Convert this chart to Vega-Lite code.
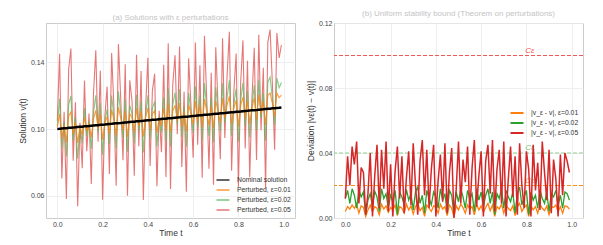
{
"$schema":"https://vega.github.io/schema/vega-lite/v6.json",
"padding":{"left":17,"top":9,"right":2,"bottom":1},
"spacing":9,
"datasets":{"thr":[{"eps":"0.01","C":0.02},{"eps":"0.02","C":0.04},{"eps":"0.05","C":0.1}],
"d":[
{"t":0.00,"v":0.1000,"o":0.1010,"g":0.1020,"r":0.1050,"dO":0.0040,"dG":0.0120,"dR":0.0120},
{"t":0.01,"v":0.1001,"o":0.1091,"g":0.1181,"r":0.1451,"dO":0.0070,"dG":0.0170,"dR":0.0380},
{"t":0.02,"v":0.1003,"o":0.0943,"g":0.0883,"r":0.0703,"dO":0.0055,"dG":0.0090,"dR":0.0200},
{"t":0.03,"v":0.1004,"o":0.1024,"g":0.1044,"r":0.1104,"dO":0.0080,"dG":0.0180,"dR":0.0440},
{"t":0.04,"v":0.1005,"o":0.0920,"g":0.0835,"r":0.0580,"dO":0.0060,"dG":0.0140,"dR":0.0330},
{"t":0.05,"v":0.1007,"o":0.1077,"g":0.1147,"r":0.1357,"dO":0.0085,"dG":0.0060,"dR":0.0470},
{"t":0.06,"v":0.1008,"o":0.1103,"g":0.1198,"r":0.1483,"dO":0.0030,"dG":0.0175,"dR":0.0090},
{"t":0.07,"v":0.1009,"o":0.0969,"g":0.0929,"r":0.0809,"dO":0.0075,"dG":0.0130,"dR":0.0310},
{"t":0.08,"v":0.1010,"o":0.1040,"g":0.1070,"r":0.1160,"dO":0.0065,"dG":0.0160,"dR":0.0280},
{"t":0.09,"v":0.1012,"o":0.0917,"g":0.0822,"r":0.0537,"dO":0.0010,"dG":0.0020,"dR":0.0020},
{"t":0.10,"v":0.1013,"o":0.1018,"g":0.1023,"r":0.1038,"dO":0.0050,"dG":0.0110,"dR":0.0150},
{"t":0.11,"v":0.1014,"o":0.0964,"g":0.0914,"r":0.0764,"dO":0.0080,"dG":0.0150,"dR":0.0400},
{"t":0.12,"v":0.1016,"o":0.1071,"g":0.1126,"r":0.1291,"dO":0.0040,"dG":0.0070,"dR":0.0010},
{"t":0.13,"v":0.1017,"o":0.0987,"g":0.0957,"r":0.0867,"dO":0.0070,"dG":0.0165,"dR":0.0260},
{"t":0.14,"v":0.1018,"o":0.1033,"g":0.1048,"r":0.1093,"dO":0.0060,"dG":0.0130,"dR":0.0450},
{"t":0.15,"v":0.1020,"o":0.0950,"g":0.0880,"r":0.0670,"dO":0.0020,"dG":0.0040,"dR":0.0060},
{"t":0.16,"v":0.1021,"o":0.1061,"g":0.1101,"r":0.1221,"dO":0.0085,"dG":0.0180,"dR":0.0420},
{"t":0.17,"v":0.1022,"o":0.1112,"g":0.1202,"r":0.1472,"dO":0.0055,"dG":0.0120,"dR":0.0180},
{"t":0.18,"v":0.1023,"o":0.1003,"g":0.0983,"r":0.0923,"dO":0.0075,"dG":0.0150,"dR":0.0470},
{"t":0.19,"v":0.1025,"o":0.1090,"g":0.1155,"r":0.1350,"dO":0.0035,"dG":0.0060,"dR":0.0040},
{"t":0.20,"v":0.1026,"o":0.0936,"g":0.0846,"r":0.0576,"dO":0.0065,"dG":0.0140,"dR":0.0330},
{"t":0.21,"v":0.1027,"o":0.1037,"g":0.1047,"r":0.1077,"dO":0.0050,"dG":0.0100,"dR":0.0010},
{"t":0.22,"v":0.1029,"o":0.1074,"g":0.1119,"r":0.1254,"dO":0.0080,"dG":0.0170,"dR":0.0290},
{"t":0.23,"v":0.1030,"o":0.0970,"g":0.0910,"r":0.0730,"dO":0.0015,"dG":0.0020,"dR":0.0440},
{"t":0.24,"v":0.1031,"o":0.1116,"g":0.1201,"r":0.1456,"dO":0.0070,"dG":0.0160,"dR":0.0120},
{"t":0.25,"v":0.1033,"o":0.1053,"g":0.1073,"r":0.1133,"dO":0.0060,"dG":0.0130,"dR":0.0380},
{"t":0.26,"v":0.1034,"o":0.0959,"g":0.0884,"r":0.0659,"dO":0.0030,"dG":0.0080,"dR":0.0030},
{"t":0.27,"v":0.1035,"o":0.1130,"g":0.1225,"r":0.1510,"dO":0.0085,"dG":0.0175,"dR":0.0250},
{"t":0.28,"v":0.1036,"o":0.1066,"g":0.1096,"r":0.1186,"dO":0.0050,"dG":0.0110,"dR":0.0410},
{"t":0.29,"v":0.1038,"o":0.0993,"g":0.0948,"r":0.0813,"dO":0.0075,"dG":0.0150,"dR":0.0080},
{"t":0.30,"v":0.1039,"o":0.1109,"g":0.1179,"r":0.1389,"dO":0.0025,"dG":0.0050,"dR":0.0460},
{"t":0.31,"v":0.1040,"o":0.0952,"g":0.0864,"r":0.0600,"dO":0.0070,"dG":0.0160,"dR":0.0200},
{"t":0.32,"v":0.1042,"o":0.1092,"g":0.1142,"r":0.1292,"dO":0.0090,"dG":0.0190,"dR":0.0020},
{"t":0.33,"v":0.1043,"o":0.1068,"g":0.1093,"r":0.1168,"dO":0.0045,"dG":0.0090,"dR":0.0350},
{"t":0.34,"v":0.1044,"o":0.0979,"g":0.0914,"r":0.0719,"dO":0.0065,"dG":0.0140,"dR":0.0480},
{"t":0.35,"v":0.1046,"o":0.1126,"g":0.1206,"r":0.1446,"dO":0.0010,"dG":0.0030,"dR":0.0140},
{"t":0.36,"v":0.1047,"o":0.1017,"g":0.0987,"r":0.0897,"dO":0.0080,"dG":0.0170,"dR":0.0420},
{"t":0.37,"v":0.1048,"o":0.1108,"g":0.1168,"r":0.1348,"dO":0.0060,"dG":0.0120,"dR":0.0060},
{"t":0.38,"v":0.1049,"o":0.0954,"g":0.0859,"r":0.0574,"dO":0.0040,"dG":0.0080,"dR":0.0300},
{"t":0.39,"v":0.1051,"o":0.1066,"g":0.1081,"r":0.1126,"dO":0.0075,"dG":0.0160,"dR":0.0450},
{"t":0.40,"v":0.1052,"o":0.1127,"g":0.1202,"r":0.1427,"dO":0.0065,"dG":0.0130,"dR":0.0010},
{"t":0.41,"v":0.1053,"o":0.0998,"g":0.0943,"r":0.0778,"dO":0.0030,"dG":0.0060,"dR":0.0230},
{"t":0.42,"v":0.1055,"o":0.1090,"g":0.1125,"r":0.1230,"dO":0.0085,"dG":0.0180,"dR":0.0390},
{"t":0.43,"v":0.1056,"o":0.1111,"g":0.1166,"r":0.1331,"dO":0.0055,"dG":0.0110,"dR":0.0100},
{"t":0.44,"v":0.1057,"o":0.0977,"g":0.0897,"r":0.0657,"dO":0.0070,"dG":0.0150,"dR":0.0460},
{"t":0.45,"v":0.1059,"o":0.1069,"g":0.1079,"r":0.1109,"dO":0.0015,"dG":0.0030,"dR":0.0030},
{"t":0.46,"v":0.1060,"o":0.1020,"g":0.0980,"r":0.0860,"dO":0.0080,"dG":0.0170,"dR":0.0280},
{"t":0.47,"v":0.1061,"o":0.1126,"g":0.1191,"r":0.1386,"dO":0.0060,"dG":0.0140,"dR":0.0430},
{"t":0.48,"v":0.1062,"o":0.0992,"g":0.0922,"r":0.0712,"dO":0.0005,"dG":0.0020,"dR":0.0000},
{"t":0.49,"v":0.1064,"o":0.1154,"g":0.1244,"r":0.1514,"dO":0.0075,"dG":0.0160,"dR":0.0180},
{"t":0.50,"v":0.1065,"o":0.0980,"g":0.0895,"r":0.0640,"dO":0.0050,"dG":0.0100,"dR":0.0470},
{"t":0.51,"v":0.1066,"o":0.1106,"g":0.1146,"r":0.1266,"dO":0.0085,"dG":0.0180,"dR":0.0090},
{"t":0.52,"v":0.1068,"o":0.1143,"g":0.1218,"r":0.1443,"dO":0.0065,"dG":0.0130,"dR":0.0360},
{"t":0.53,"v":0.1069,"o":0.1049,"g":0.1029,"r":0.0969,"dO":0.0030,"dG":0.0060,"dR":0.0220},
{"t":0.54,"v":0.1070,"o":0.1155,"g":0.1240,"r":0.1495,"dO":0.0080,"dG":0.0170,"dR":0.0440},
{"t":0.55,"v":0.1072,"o":0.1012,"g":0.0952,"r":0.0772,"dO":0.0055,"dG":0.0120,"dR":0.0020},
{"t":0.56,"v":0.1073,"o":0.1103,"g":0.1133,"r":0.1223,"dO":0.0070,"dG":0.0150,"dR":0.0310},
{"t":0.57,"v":0.1074,"o":0.0984,"g":0.0894,"r":0.0624,"dO":0.0020,"dG":0.0040,"dR":0.0480},
{"t":0.58,"v":0.1075,"o":0.1145,"g":0.1215,"r":0.1425,"dO":0.0085,"dG":0.0180,"dR":0.0070},
{"t":0.59,"v":0.1077,"o":0.1092,"g":0.1107,"r":0.1152,"dO":0.0050,"dG":0.0110,"dR":0.0260},
{"t":0.60,"v":0.1078,"o":0.1028,"g":0.0978,"r":0.0828,"dO":0.0075,"dG":0.0160,"dR":0.0410},
{"t":0.61,"v":0.1079,"o":0.1167,"g":0.1255,"r":0.1519,"dO":0.0035,"dG":0.0070,"dR":0.0010},
{"t":0.62,"v":0.1081,"o":0.1046,"g":0.1011,"r":0.0906,"dO":0.0065,"dG":0.0140,"dR":0.0350},
{"t":0.63,"v":0.1082,"o":0.1142,"g":0.1202,"r":0.1382,"dO":0.0090,"dG":0.0180,"dR":0.0450},
{"t":0.64,"v":0.1083,"o":0.1008,"g":0.0933,"r":0.0708,"dO":0.0045,"dG":0.0090,"dR":0.0150},
{"t":0.65,"v":0.1085,"o":0.1180,"g":0.1275,"r":0.1560,"dO":0.0080,"dG":0.0160,"dR":0.0480},
{"t":0.66,"v":0.1086,"o":0.1106,"g":0.1126,"r":0.1186,"dO":0.0010,"dG":0.0020,"dR":0.0040},
{"t":0.67,"v":0.1087,"o":0.1022,"g":0.0957,"r":0.0762,"dO":0.0070,"dG":0.0150,"dR":0.0300},
{"t":0.68,"v":0.1088,"o":0.1138,"g":0.1188,"r":0.1338,"dO":0.0055,"dG":0.0120,"dR":0.0420},
{"t":0.69,"v":0.1090,"o":0.1005,"g":0.0920,"r":0.0665,"dO":0.0085,"dG":0.0180,"dR":0.0090},
{"t":0.70,"v":0.1091,"o":0.1171,"g":0.1251,"r":0.1491,"dO":0.0030,"dG":0.0060,"dR":0.0470},
{"t":0.71,"v":0.1092,"o":0.1102,"g":0.1112,"r":0.1142,"dO":0.0080,"dG":0.0170,"dR":0.0010},
{"t":0.72,"v":0.1094,"o":0.1039,"g":0.0984,"r":0.0819,"dO":0.0060,"dG":0.0130,"dR":0.0240},
{"t":0.73,"v":0.1095,"o":0.1185,"g":0.1275,"r":0.1545,"dO":0.0045,"dG":0.0100,"dR":0.0440},
{"t":0.74,"v":0.1096,"o":0.1066,"g":0.1036,"r":0.0946,"dO":0.0075,"dG":0.0160,"dR":0.0130},
{"t":0.75,"v":0.1098,"o":0.1143,"g":0.1188,"r":0.1323,"dO":0.0015,"dG":0.0030,"dR":0.0380},
{"t":0.76,"v":0.1099,"o":0.1196,"g":0.1293,"r":0.1584,"dO":0.0070,"dG":0.0150,"dR":0.0020},
{"t":0.77,"v":0.1100,"o":0.1030,"g":0.0960,"r":0.0750,"dO":0.0090,"dG":0.0190,"dR":0.0460},
{"t":0.78,"v":0.1101,"o":0.1126,"g":0.1151,"r":0.1226,"dO":0.0040,"dG":0.0080,"dR":0.0200},
{"t":0.79,"v":0.1103,"o":0.1173,"g":0.1243,"r":0.1453,"dO":0.0065,"dG":0.0130,"dR":0.0060},
{"t":0.80,"v":0.1104,"o":0.1014,"g":0.0924,"r":0.0654,"dO":0.0080,"dG":0.0170,"dR":0.0410},
{"t":0.81,"v":0.1105,"o":0.1140,"g":0.1175,"r":0.1280,"dO":0.0010,"dG":0.0020,"dR":0.0300},
{"t":0.82,"v":0.1107,"o":0.1192,"g":0.1277,"r":0.1532,"dO":0.0075,"dG":0.0160,"dR":0.0010},
{"t":0.83,"v":0.1108,"o":0.1063,"g":0.1018,"r":0.0883,"dO":0.0050,"dG":0.0110,"dR":0.0450},
{"t":0.84,"v":0.1109,"o":0.1169,"g":0.1229,"r":0.1409,"dO":0.0070,"dG":0.0140,"dR":0.0170},
{"t":0.85,"v":0.1111,"o":0.1031,"g":0.0951,"r":0.0711,"dO":0.0030,"dG":0.0060,"dR":0.0340},
{"t":0.86,"v":0.1112,"o":0.1127,"g":0.1142,"r":0.1187,"dO":0.0085,"dG":0.0175,"dR":0.0050},
{"t":0.87,"v":0.1113,"o":0.1188,"g":0.1263,"r":0.1488,"dO":0.0060,"dG":0.0120,"dR":0.0470},
{"t":0.88,"v":0.1114,"o":0.1054,"g":0.0994,"r":0.0814,"dO":0.0045,"dG":0.0090,"dR":0.0280},
{"t":0.89,"v":0.1116,"o":0.1206,"g":0.1296,"r":0.1566,"dO":0.0075,"dG":0.0160,"dR":0.0110},
{"t":0.90,"v":0.1117,"o":0.1092,"g":0.1067,"r":0.0992,"dO":0.0020,"dG":0.0040,"dR":0.0420},
{"t":0.91,"v":0.1118,"o":0.1168,"g":0.1218,"r":0.1368,"dO":0.0070,"dG":0.0150,"dR":0.0030},
{"t":0.92,"v":0.1120,"o":0.1025,"g":0.0930,"r":0.0645,"dO":0.0065,"dG":0.0130,"dR":0.0360},
{"t":0.93,"v":0.1121,"o":0.1201,"g":0.1281,"r":0.1521,"dO":0.0080,"dG":0.0170,"dR":0.0240},
{"t":0.94,"v":0.1122,"o":0.1217,"g":0.1312,"r":0.1597,"dO":0.0040,"dG":0.0080,"dR":0.0010},
{"t":0.95,"v":0.1124,"o":0.1154,"g":0.1184,"r":0.1274,"dO":0.0070,"dG":0.0140,"dR":0.0390},
{"t":0.96,"v":0.1125,"o":0.1075,"g":0.1025,"r":0.0875,"dO":0.0030,"dG":0.0060,"dR":0.0140},
{"t":0.97,"v":0.1126,"o":0.1216,"g":0.1306,"r":0.1576,"dO":0.0075,"dG":0.0160,"dR":0.0400},
{"t":0.98,"v":0.1127,"o":0.1187,"g":0.1247,"r":0.1427,"dO":0.0070,"dG":0.0150,"dR":0.0350},
{"t":0.99,"v":0.1129,"o":0.1204,"g":0.1279,"r":0.1504,"dO":0.0055,"dG":0.0110,"dR":0.0280}
]},
"hconcat":[
{
"width":249,"height":195,
"title":{"text":"(a) Solutions with ε perturbations","fontSize":8,"color":"#c4c4c4","fontWeight":"normal","offset":1},
"data":{"name":"d"},
"encoding":{"x":{"field":"t","type":"quantitative","scale":{"domain":[-0.05,1.05],"nice":false,"zero":false},"axis":{"values":[0,0.2,0.4,0.6,0.8,1.0],"format":".1f","title":"Time t"}}},
"layer":[
{"mark":{"type":"line","strokeWidth":1.1,"opacity":0.8},
 "encoding":{"y":{"field":"r","type":"quantitative","scale":{"domain":[0.0466,0.1636],"nice":false,"zero":false},"axis":{"values":[0.06,0.08,0.1,0.12,0.14,0.16],"format":".2f","title":"Solution v(t)"}},
 "color":{"datum":"Perturbed, ε=0.05","scale":{"domain":["Nominal solution","Perturbed, ε=0.01","Perturbed, ε=0.02","Perturbed, ε=0.05"],"range":["#000000","#ff7f0e","#5cb85c","#e05555"]},
 "legend":{"title":null,"orient":"none","legendX":171,"legendY":151,"symbolType":"M-1.3,0H1.3","symbolStrokeWidth":1.5,"symbolSize":100,"rowPadding":-1,"labelOffset":8,"labelFontSize":6.8,"labelColor":"#333333","labelFont":"Liberation Sans","padding":0}}}},
{"mark":{"type":"line","strokeWidth":1.1,"opacity":0.75},"encoding":{"y":{"field":"g","type":"quantitative"},"color":{"datum":"Perturbed, ε=0.02"}}},
{"mark":{"type":"line","strokeWidth":1.1,"opacity":0.8},"encoding":{"y":{"field":"o","type":"quantitative"},"color":{"datum":"Perturbed, ε=0.01"}}},
{"mark":{"type":"line","strokeWidth":2.5},"encoding":{"y":{"field":"v","type":"quantitative"},"color":{"datum":"Nominal solution"}}}
]
},
{
"width":249,"height":195,
"title":{"text":"(b) Uniform stability bound (Theorem on perturbations)","fontSize":8,"color":"#c4c4c4","fontWeight":"normal","offset":1},
"layer":[
{"data":{"name":"thr"},"transform":[{"filter":"datum.eps == '0.05'"}],"mark":{"type":"rule","strokeDash":[4,2],"strokeWidth":1.2,"color":"#f25a5a","opacity":1},
 "encoding":{"y":{"field":"C","type":"quantitative","scale":{"domain":[0,0.12],"nice":false,"zero":false},"axis":{"values":[0,0.02,0.04,0.06,0.08,0.1,0.12],"format":".2f","title":"Deviation |vε(t) − v(t)|"}}}},
{"data":{"name":"thr"},"transform":[{"filter":"datum.eps == '0.02'"}],"mark":{"type":"rule","strokeDash":[4,2],"strokeWidth":1.2,"color":"#8fd18f","opacity":1},"encoding":{"y":{"field":"C","type":"quantitative"}}},
{"data":{"name":"thr"},"transform":[{"filter":"datum.eps == '0.01'"}],"mark":{"type":"rule","strokeDash":[4,2],"strokeWidth":1.2,"color":"#ff8c1a","opacity":1},"encoding":{"y":{"field":"C","type":"quantitative"}}},
{"data":{"name":"thr"},"transform":[{"filter":"datum.eps == '0.05'"}],"mark":{"type":"text","text":"Cε","fontStyle":"italic","fontSize":8,"dy":-5,"color":"#f05050","font":"Liberation Sans"},
 "encoding":{"x":{"datum":0.815,"type":"quantitative","scale":{"domain":[-0.05,1.05],"nice":false,"zero":false},"axis":{"values":[0,0.2,0.4,0.6,0.8,1.0],"format":".1f","title":"Time t"}},"y":{"field":"C","type":"quantitative"}}},
{"data":{"name":"thr"},"transform":[{"filter":"datum.eps == '0.02'"}],"mark":{"type":"text","text":"Cε","fontStyle":"italic","fontSize":8,"dy":-5,"color":"#7cc47c","font":"Liberation Sans"},
 "encoding":{"x":{"datum":0.815,"type":"quantitative"},"y":{"field":"C","type":"quantitative"}}},
{"data":{"name":"thr"},"transform":[{"filter":"datum.eps == '0.01'"}],"mark":{"type":"text","text":"Cε","fontStyle":"italic","fontSize":8,"dy":-5,"color":"#ff8c1a","font":"Liberation Sans"},
 "encoding":{"x":{"datum":0.815,"type":"quantitative"},"y":{"field":"C","type":"quantitative"}}},
{"data":{"name":"d"},"mark":{"type":"line","strokeWidth":1.3},
 "encoding":{"x":{"field":"t","type":"quantitative"},"y":{"field":"dO","type":"quantitative"},
 "color":{"datum":"|v_ε - v|, ε=0.01","scale":{"domain":["|v_ε - v|, ε=0.01","|v_ε - v|, ε=0.02","|v_ε - v|, ε=0.05"],"range":["#ff7f0e","#2ca02c","#d62728"]},
 "legend":{"title":null,"orient":"none","legendX":177,"legendY":84,"symbolType":"M-1.3,0H1.3","symbolStrokeWidth":2,"symbolSize":100,"rowPadding":-0.5,"labelOffset":8,"labelFontSize":6.8,"labelColor":"#333333","labelFont":"Liberation Sans","padding":0}}}},
{"data":{"name":"d"},"mark":{"type":"line","strokeWidth":1.3},"encoding":{"x":{"field":"t","type":"quantitative"},"y":{"field":"dG","type":"quantitative"},"color":{"datum":"|v_ε - v|, ε=0.02"}}},
{"data":{"name":"d"},"mark":{"type":"line","strokeWidth":1.5},"encoding":{"x":{"field":"t","type":"quantitative"},"y":{"field":"dR","type":"quantitative"},"color":{"datum":"|v_ε - v|, ε=0.05"}}}
]
}
],
"resolve":{"scale":{"color":"independent","x":"independent","y":"independent"},"legend":{"color":"independent"}},
"config":{
"font":"Liberation Sans",
"view":{"stroke":"#cccccc","strokeWidth":1},
"axis":{"grid":true,"gridColor":"#ebebeb","gridWidth":0.8,"domain":false,"ticks":false,"labelFont":"Liberation Sans","labelFontSize":7,"labelColor":"#444444","titleFont":"Liberation Sans","titleFontSize":8.5,"titleFontWeight":"normal","titleColor":"#333333","labelPadding":3,"titlePadding":3,"labelOverlap":false},
"axisY":{"labelPadding":2},
"axisX":{"labelPadding":2,"titlePadding":1},
"legend":{"labelFont":"Liberation Sans"}
}
}
